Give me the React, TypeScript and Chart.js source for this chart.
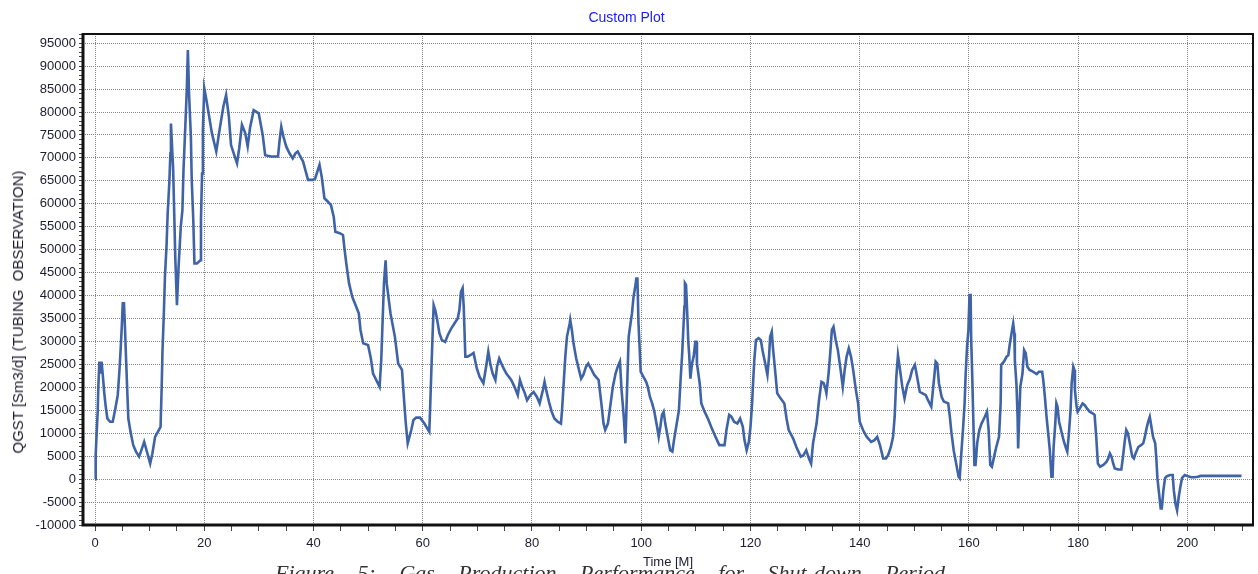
import React, { useEffect, useRef } from "react";
import { Chart, registerables } from "chart.js";

Chart.register(...registerables);

const chartTitle = "Custom Plot";
const xAxisTitle = "Time [M]";
const yAxisTitle = "QGST [Sm3/d] (TUBING  OBSERVATION)";
const captionText = "Figure 5: Gas Production Performance for Shut-down Period";

// Time in months
const timeMonths = [
  0, 0.12, 0.3, 0.5, 0.6, 0.8, 1.04, 1.2, 1.4, 1.7, 1.96, 2.26, 2.75, 3.24, 3.67, 4.16, 4.46, 4.7, 4.9, 5.08,
  5.3, 5.5, 5.7, 5.9, 6.1, 6.5, 7.0, 7.5, 8.07, 8.4, 9.0, 9.5, 10.1, 10.5, 11.0, 11.5, 12.0, 12.2, 12.35, 12.6,
  12.8, 13.1, 13.3, 13.6, 13.8, 13.9, 14.3, 14.5, 14.7, 15.0, 15.3, 15.7, 16.0, 16.2, 16.5, 16.8, 17.0, 17.2, 17.55, 17.7,
  18.0, 18.2, 18.65, 19.3, 19.4, 19.6, 19.75, 20.0, 20.3, 20.8, 21.4, 22.2, 22.8, 23.5, 24.0, 24.5, 24.9, 25.5, 26.0, 26.4,
  26.9, 27.5, 27.95, 28.4, 29.05, 29.97, 30.7, 31.15, 32.25, 33.5, 33.8, 34.1, 34.5, 35.0, 35.6, 36.2, 36.7, 37.1, 37.6, 38.1,
  38.5, 39.0, 39.9, 40.3, 40.7, 41.1, 41.5, 42.0, 42.6, 43.2, 43.7, 44.0, 44.8, 45.4, 45.7, 46.0, 46.5, 47.1, 47.8, 48.3,
  48.6, 49.1, 50.0, 50.5, 50.9, 52.1, 52.4, 52.7, 52.9, 53.2, 53.4, 54.1, 54.9, 55.5, 56.2, 56.6, 56.9, 57.25, 57.9, 58.3,
  58.8, 59.5, 60.3, 61.2, 61.4, 61.6, 61.8, 62.0, 62.3, 62.6, 63.05, 63.5, 64.1, 64.6, 65.2, 65.8, 66.4, 66.7, 67.0, 67.3,
  67.5, 67.8, 68.2, 68.7, 69.3, 69.9, 70.4, 71.1, 71.6, 72.0, 72.4, 72.8, 73.3, 73.6, 74.0, 74.65, 75.3, 76.2, 76.8, 77.4,
  77.8, 78.2, 78.6, 79.1, 79.7, 80.3, 80.9, 81.4, 82.0, 82.3, 82.6, 83.1, 83.6, 84.1, 84.7, 85.3, 85.5, 85.8, 86.1, 86.4,
  86.9, 87.0, 87.3, 87.6, 88.1, 88.6, 89.0, 89.4, 89.9, 90.3, 90.8, 91.4, 92.2, 92.7, 93.1, 93.4, 93.9, 94.4, 94.8, 95.3,
  95.7, 96.1, 96.4, 96.8, 97.1, 97.2, 97.4, 97.7, 98.0, 98.3, 98.6, 98.9, 99.1, 99.3, 99.5, 99.7, 99.9, 100.4, 100.9, 101.2,
  101.6, 102.0, 102.4, 102.9, 103.2, 103.5, 103.8, 104.1, 104.4, 104.9, 105.3, 105.7, 106.0, 106.4, 106.9, 107.2, 107.5, 107.7, 107.9, 108.0,
  108.2, 108.4, 108.6, 108.8, 109.0, 109.3, 109.6, 109.9, 110.1, 110.2, 110.7, 111.0, 111.6, 112.2, 112.8, 113.6, 114.3, 115.25, 115.6, 116.1,
  116.5, 117.0, 117.6, 118.1, 118.6, 118.9, 119.3, 119.7, 120.0, 120.3, 120.5, 120.7, 121.0, 121.5, 121.9, 122.2, 122.7, 123.1, 123.4, 123.6,
  123.9, 124.1, 124.5, 124.9, 125.5, 126.2, 126.6, 127.0, 127.8, 128.4, 129.2, 129.7, 130.2, 130.7, 131.1, 131.45, 132.1, 132.55, 133.0, 133.4,
  133.7, 133.9, 134.3, 134.6, 134.9, 135.2, 135.6, 136.0, 136.5, 136.9, 137.25, 137.6, 138.0, 138.4, 138.8, 139.3, 139.7, 140.0, 140.6, 141.3,
  142.1, 142.7, 143.2, 143.7, 144.3, 144.8, 145.2, 145.7, 146.1, 146.4, 146.7, 147.0, 147.3, 147.8, 148.2, 148.7, 149.2, 149.6, 150.1, 150.5,
  151.0, 151.5, 152.1, 152.5, 153.1, 153.4, 153.7, 153.9, 154.2, 154.5, 155.0, 155.4, 156.2, 156.5, 156.8, 157.2, 157.7, 158.1, 158.3, 158.6,
  158.9, 159.2, 159.4, 159.65, 159.9, 160.1, 160.3, 160.4, 160.6, 160.8, 161.0, 161.2, 161.5, 161.9, 162.3, 162.9, 163.3, 163.6, 163.9, 164.2,
  164.6, 165.0, 165.5, 165.8, 165.9, 166.4, 166.9, 167.2, 167.5, 167.8, 168.1, 168.3, 168.4, 168.7, 168.9, 169.0, 169.2, 169.4, 169.8, 170.1,
  170.4, 170.7, 171.1, 171.7, 172.4, 172.8, 173.4, 173.6, 173.9, 174.2, 174.5, 174.8, 175.1, 175.3, 175.5, 175.8, 176.0, 176.2, 176.5, 177.0,
  177.4, 177.7, 178.0, 178.3, 178.6, 178.8, 179.1, 179.3, 179.4, 179.7, 179.9, 180.3, 180.8, 181.2, 181.6, 182.1, 182.7, 183.0, 183.3, 183.6,
  184.0, 184.6, 185.2, 185.5, 185.8, 186.1, 186.4, 186.7, 187.3, 187.9, 188.2, 188.5, 188.8, 189.1, 189.45, 189.9, 190.2, 190.5, 191.0, 191.5,
  191.9, 192.2, 192.5, 192.8, 193.1, 193.4, 193.7, 194.1, 194.3, 194.5, 194.8, 195.1, 195.3, 195.6, 195.9, 196.2, 196.8, 197.3, 197.5, 197.8,
  198.1, 198.4, 198.7, 199.0, 199.5, 200.1, 200.7, 201.3, 201.9, 202.4, 209.9,
];

// QGST [Sm3/d] observations
const qgstValues = [
  0, 5200, 10000, 15000, 20000, 25600, 23000, 25600, 23000, 18700, 15800, 13200, 12500, 12500, 15000, 18300, 23400, 28500, 33200, 38300,
  38300, 32500, 25600, 19400, 13200, 10300, 7400, 6000, 4900, 6000, 8100, 6000, 3400, 5600, 9200, 10300, 11400, 19800, 27800, 36100,
  44100, 51000, 57900, 64500, 71000, 77500, 67700, 57900, 48100, 37900, 46300, 55000, 58600, 67400, 76000, 84800, 93500, 84400, 74600, 65500,
  56100, 47000, 47000, 47700, 56800, 66600, 76100, 85200, 83300, 79700, 75400, 71400, 76100, 81200, 83700, 79000, 72800, 70600, 68800, 72100,
  77200, 75400, 72500, 76700, 80400, 79700, 75000, 70600, 70300, 70300, 73900, 76800, 74600, 72500, 71000, 69900, 71000, 71400, 70300, 69200,
  67400, 65200, 65200, 65500, 67000, 68500, 65900, 61200, 60500, 59700, 57200, 53900, 53600, 53200, 49900, 47000, 42700, 39700, 37600, 36100,
  32500, 29600, 29200, 26300, 23000, 20100, 25900, 36100, 42700, 47700, 42700, 36100, 31000, 25200, 23800, 16900, 12100, 7800, 10700, 12900,
  13400, 13400, 12100, 10300, 17200, 24500, 31400, 37900, 36800, 35000, 31800, 30300, 29900, 31400, 32800, 33900, 35000, 36800, 40800, 41600,
  37600, 26700, 26700, 27000, 27500, 24100, 22300, 20900, 24500, 27800, 24900, 23000, 21600, 24500, 26300, 24500, 23000, 21600, 20100, 18300,
  21600, 20100, 19000, 17200, 18300, 19000, 17900, 16500, 19400, 21200, 19400, 16900, 14700, 13200, 12500, 12100, 15000, 20900, 26700, 31000,
  33900, 34700, 32500, 29600, 26300, 23800, 21900, 22700, 24500, 25200, 24100, 22700, 21600, 16500, 12100, 10700, 12100, 16500, 20100, 23000,
  24500, 25600, 19400, 13600, 7800, 7800, 19400, 31000, 33600, 36100, 39800, 41900, 43700, 43700, 33900, 28800, 23400, 22300, 21200, 20100,
  17900, 16500, 14700, 11400, 9200, 11400, 14000, 14700, 12100, 8900, 6300, 6000, 8500, 11400, 15000, 21600, 27400, 32500, 37600, 42700,
  42300, 36800, 30300, 26700, 21900, 25200, 26700, 29900, 29900, 25200, 20900, 16500, 14700, 13200, 11400, 9200, 7400, 7400, 10700, 14000,
  13600, 12500, 12100, 13200, 11400, 8500, 6300, 8100, 11400, 16500, 21600, 25900, 30300, 30700, 30300, 28100, 25200, 22700, 26700, 31000,
  32100, 28800, 23800, 18700, 17600, 16500, 13200, 10700, 8900, 7000, 4900, 5200, 6300, 4500, 3400, 7800, 12100, 17200, 21200, 20900,
  19800, 18700, 23000, 27400, 32500, 33200, 30300, 28100, 23800, 20100, 23800, 26700, 28500, 26700, 23800, 19400, 16500, 12500, 10700, 9200,
  8100, 8500, 9200, 7400, 4500, 4500, 5200, 7000, 9200, 13600, 22300, 27000, 24500, 20100, 17600, 20500, 21900, 23800, 24900, 22300,
  19000, 18700, 18300, 17200, 15800, 19400, 23000, 25600, 25200, 20900, 17900, 16900, 16500, 13600, 10000, 6300, 3100, 500, 200, 5600,
  10700, 16500, 23000, 28800, 32500, 40100, 40100, 31000, 22300, 12900, 3100, 3100, 7800, 10700, 12100, 13600, 14700, 10700, 3100, 2700,
  4900, 7000, 9200, 16500, 24900, 25600, 26700, 27000, 29600, 31800, 33900, 31800, 25900, 20500, 13600, 6700, 13600, 20100, 23000, 28100,
  27400, 24500, 23800, 23400, 22900, 23400, 23400, 21600, 17900, 13600, 10000, 6300, 500, 500, 7000, 12100, 16500, 15800, 12500, 10000,
  8100, 7000, 6000, 10000, 15000, 20900, 24500, 23800, 19400, 15800, 14700, 15400, 16500, 16100, 15400, 14700, 14300, 14000, 9200, 3400,
  2700, 3100, 3800, 4500, 5600, 4900, 3400, 2300, 2100, 2100, 4900, 8100, 10700, 10000, 7800, 4900, 4500, 5600, 7000, 7400,
  7800, 9200, 11000, 12500, 13600, 11400, 9200, 7800, 4500, 200, -3100, -6400, -6400, -2400, 200, 600, 900, 900, -2400, -5300,
  -6800, -3900, -1700, 200, 900, 600, 400, 400, 500, 700, 700,
];

const xTickLabels = [0, 20, 40, 60, 80, 100, 120, 140, 160, 180, 200];
const yTickLabels = [
  -10000, -5000, 0, 5000, 10000, 15000, 20000, 25000, 30000, 35000, 40000, 45000,
  50000, 55000, 60000, 65000, 70000, 75000, 80000, 85000, 90000, 95000,
];

const X_MIN = -2.2;
const X_MAX = 212;
const Y_MIN = -10000;
const Y_MAX = 97000;

const TICK_FONT = "'Liberation Sans', Arial, sans-serif";
const GRID_COLOR = "rgba(120,120,120,0.9)";

function rangeTicks(min: number, max: number, step: number) {
  const out: number[] = [];
  for (let v = Math.ceil(min / step) * step; v <= max + 1e-9; v += step) out.push(Math.round(v * 1000) / 1000);
  return out;
}

const framePlugin = {
  id: "frameBox",
  afterDraw(chart: any) {
    const { ctx, chartArea } = chart;
    const { left, top, right, bottom } = chartArea;
    ctx.save();
    ctx.strokeStyle = "#111";
    ctx.lineWidth = 2;
    ctx.beginPath();
    ctx.moveTo(left, top);
    ctx.lineTo(right, top);
    ctx.lineTo(right, bottom);
    ctx.stroke();
    ctx.lineWidth = 3;
    ctx.beginPath();
    ctx.moveTo(left, top - 1);
    ctx.lineTo(left, bottom);
    ctx.lineTo(right + 1, bottom);
    ctx.stroke();
    ctx.restore();
  },
};

export default function App() {
  const canvasRef = useRef<HTMLCanvasElement | null>(null);

  useEffect(() => {
    if (!canvasRef.current) return;
    const points = timeMonths.map((t, i) => ({ x: t, y: qgstValues[i] }));
    const xAll = rangeTicks(0, X_MAX, 5);
    const yAll = rangeTicks(Y_MIN, Y_MAX, 1000);
    const isXMajor = (v: number) => xTickLabels.includes(v);
    const isYMajor = (v: number) => yTickLabels.includes(v);

    const chart = new Chart(canvasRef.current, {
      type: "line",
      data: {
        datasets: [
          {
            data: points,
            borderColor: "#3f63a7",
            borderWidth: 2.6,
            pointRadius: 0,
            tension: 0,
            fill: false,
          },
        ],
      },
      options: {
        responsive: false,
        animation: false,
        devicePixelRatio: 1,
        layout: { padding: { left: 0, right: 5, top: 0, bottom: 0 } },
        plugins: {
          legend: { display: false },
          tooltip: { enabled: false },
          title: {
            display: true,
            text: chartTitle,
            color: "#1a1aff",
            font: { family: TICK_FONT, size: 14, weight: "normal" },
            padding: { top: 10, bottom: 7.2 },
          },
        },
        scales: {
          x: {
            type: "linear",
            min: X_MIN,
            max: X_MAX,
            afterBuildTicks: (scale: any) => {
              scale.ticks = xAll.map((v) => ({ value: v }));
            },
            afterFit: (scale: any) => {
              scale.height = 49;
            },
            ticks: {
              autoSkip: false,
              maxRotation: 0,
              padding: 5,
              color: "#1c1c30",
              font: { family: TICK_FONT, size: 13 },
              callback: (v: any) => (isXMajor(Number(v)) ? String(v) : ""),
            },
            grid: {
              color: (ctx: any) => (ctx.tick && isXMajor(ctx.tick.value) ? GRID_COLOR : "rgba(0,0,0,0)"),
              tickColor: "#444",
              tickLength: 6,
              lineWidth: 1,
            },
            border: { display: false, dash: [1, 1] },
            title: {
              display: true,
              text: xAxisTitle,
              color: "#1c1c30",
              font: { family: TICK_FONT, size: 13 },
              padding: { top: 0, bottom: 4 },
            },
          },
          y: {
            type: "linear",
            min: Y_MIN,
            max: Y_MAX,
            afterBuildTicks: (scale: any) => {
              scale.ticks = yAll.map((v) => ({ value: v }));
            },
            afterFit: (scale: any) => {
              scale.width = 83;
            },
            ticks: {
              autoSkip: false,
              padding: 3,
              color: "#1c1c30",
              font: { family: TICK_FONT, size: 13 },
              callback: (v: any) => (isYMajor(Number(v)) ? String(v) : ""),
            },
            grid: {
              color: (ctx: any) =>
                ctx.tick && isYMajor(ctx.tick.value) && ctx.tick.value > Y_MIN ? GRID_COLOR : "rgba(0,0,0,0)",
              tickColor: "#444",
              tickLength: 4,
              lineWidth: 1,
            },
            border: { display: false, dash: [1, 1] },
          },
        },
      },
      plugins: [framePlugin],
    } as any);
    return () => chart.destroy();
  }, []);

  return (
    <div
      style={{
        position: "fixed",
        left: 0,
        top: 0,
        width: 1258,
        height: 574,
        overflow: "hidden",
        background: "#fff",
      }}
    >
      <canvas ref={canvasRef} width={1258} height={574} style={{ position: "absolute", left: 0, top: 0 }} />
      <div
        style={{
          position: "absolute",
          left: 18,
          top: 312,
          transform: "translate(-50%, -50%) rotate(-90deg)",
          whiteSpace: "pre",
          fontFamily: TICK_FONT,
          fontSize: 15,
          color: "#1c1c30",
          lineHeight: "16px",
        }}
      >
        {yAxisTitle}
      </div>
      <div
        style={{
          position: "absolute",
          left: 275,
          top: 562,
          whiteSpace: "pre",
          fontFamily: "'Liberation Serif', 'Times New Roman', serif",
          fontStyle: "italic",
          fontSize: 22,
          lineHeight: "22px",
          wordSpacing: 18,
          color: "#333",
        }}
      >
        {captionText}
      </div>
    </div>
  );
}
